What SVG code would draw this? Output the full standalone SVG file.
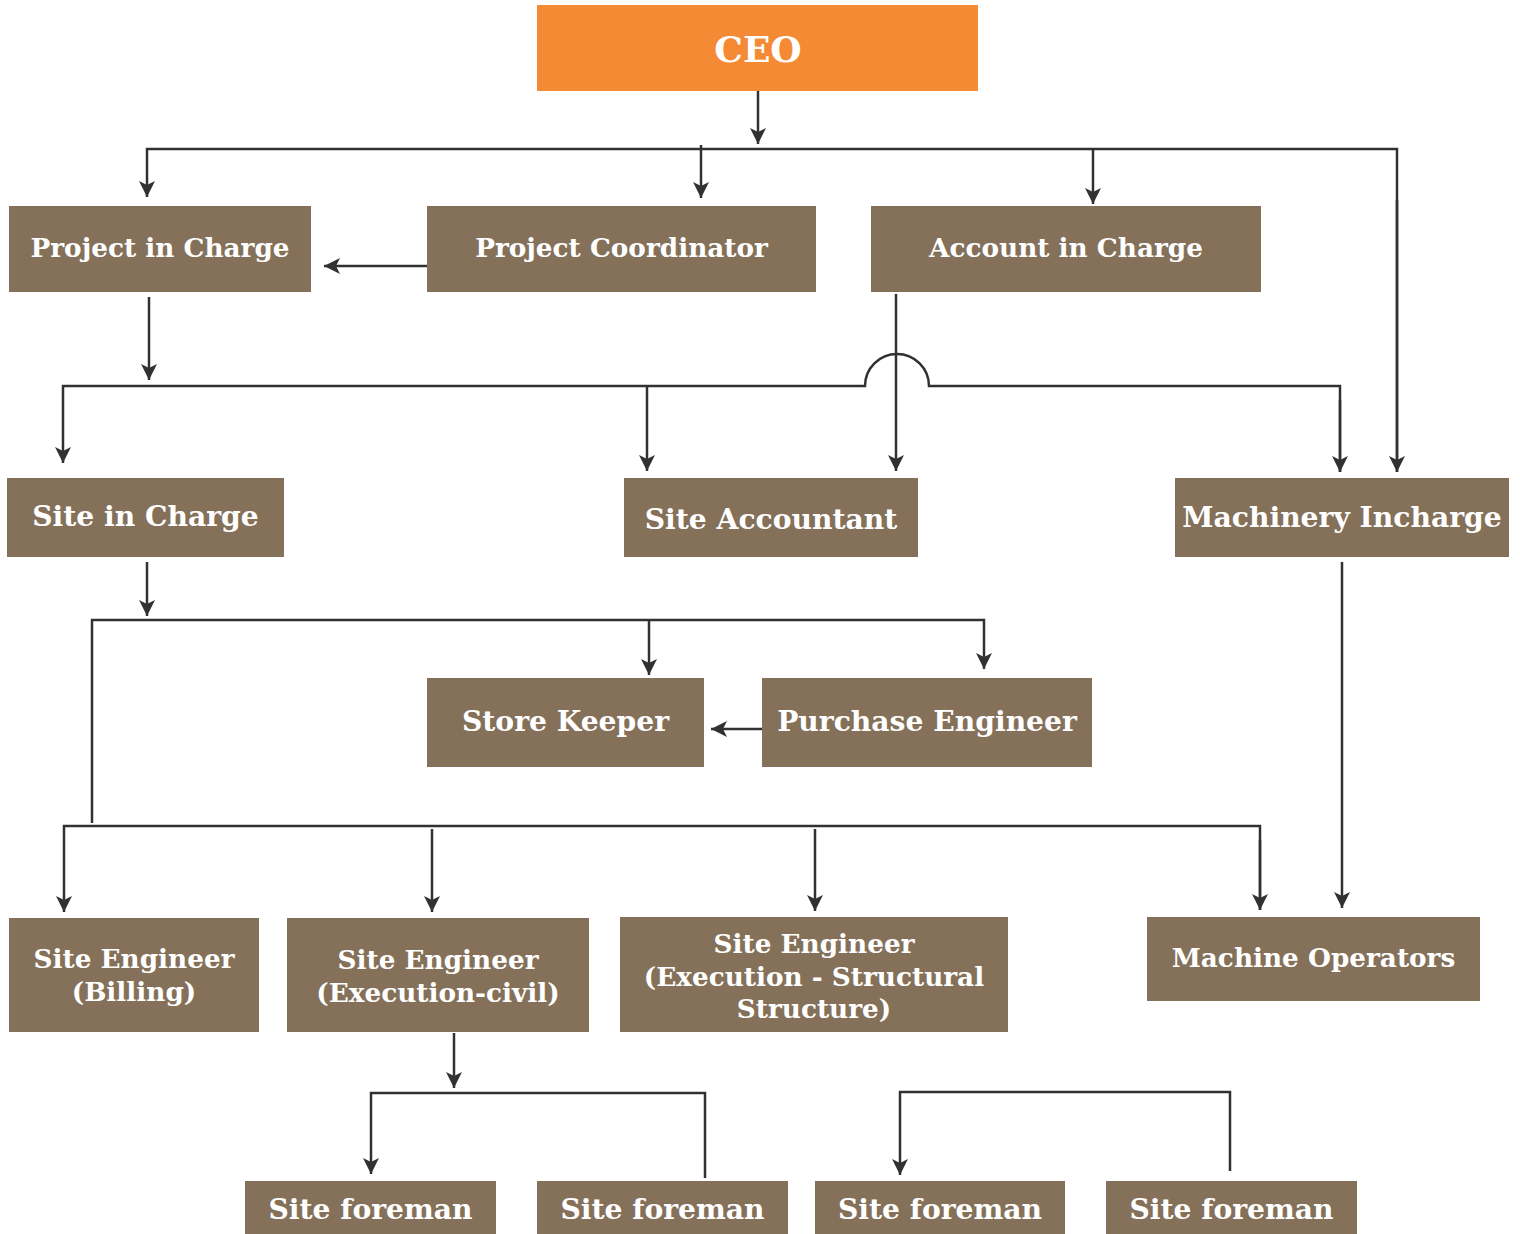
<svg xmlns="http://www.w3.org/2000/svg" width="1520" height="1234" viewBox="0 0 1520 1234">
<style>
.box{fill:#85715A}
.ceo{fill:#F58A35}
.t{font-family:"DejaVu Serif","Liberation Serif",serif;font-weight:bold;fill:#FFFFFF;text-anchor:middle;font-size:26.3px}
.l{font-size:28.2px}
.c{fill:none;stroke:#333033;stroke-width:2.5}
</style>
<defs>
<marker id="ah" markerWidth="18" markerHeight="16" refX="16" refY="8" orient="auto" markerUnits="userSpaceOnUse" viewBox="0 0 18 16">
<path d="M0,0 L16,8 L0,16 L4,8 Z" fill="#333033"/>
</marker>
</defs>
<g id="connectors">
<path class="c" d="M758,91 V144" marker-end="url(#ah)"/>
<path class="c" d="M1397,472 V149 H147 V197" marker-end="url(#ah)"/>
<path class="c" d="M701,145 V198" marker-end="url(#ah)"/>
<path class="c" d="M1093,149 V204" marker-end="url(#ah)"/>
<path class="c" d="M1397,200 V472" marker-end="url(#ah)"/>
<path class="c" d="M427,266 H324" marker-end="url(#ah)"/>
<path class="c" d="M149,297 V380" marker-end="url(#ah)"/>
<path class="c" d="M1340,472 V386 H929 A32,32 0 0 0 865,386 H63 V463" marker-end="url(#ah)"/>
<path class="c" d="M1340,400 V472" marker-end="url(#ah)"/>
<path class="c" d="M647,386 V471" marker-end="url(#ah)"/>
<path class="c" d="M896,294 V471" marker-end="url(#ah)"/>
<path class="c" d="M147,562 V616" marker-end="url(#ah)"/>
<path class="c" d="M92,823 V620 H984 V669" marker-end="url(#ah)"/>
<path class="c" d="M649,620 V675" marker-end="url(#ah)"/>
<path class="c" d="M762,729 H711" marker-end="url(#ah)"/>
<path class="c" d="M1260,910 V826 H64 V912" marker-end="url(#ah)"/>
<path class="c" d="M1260,840 V910" marker-end="url(#ah)"/>
<path class="c" d="M432,829 V912" marker-end="url(#ah)"/>
<path class="c" d="M815,829 V911" marker-end="url(#ah)"/>
<path class="c" d="M1342,562 V908" marker-end="url(#ah)"/>
<path class="c" d="M454,1033 V1088" marker-end="url(#ah)"/>
<path class="c" d="M705,1178 V1093 H371 V1174" marker-end="url(#ah)"/>
<path class="c" d="M1230,1171 V1092 H900 V1175" marker-end="url(#ah)"/>
</g>
<g id="ceo"><rect class="ceo" x="537" y="5" width="441" height="86"/><text class="t" x="758" y="62" style="font-size:36px">CEO</text></g>
<g id="project-in-charge"><rect class="box" x="9" y="206" width="302" height="86"/><text class="t" x="160" y="257">Project in Charge</text></g>
<g id="project-coordinator"><rect class="box" x="427" y="206" width="389" height="86"/><text class="t" x="621.5" y="257">Project Coordinator</text></g>
<g id="account-in-charge"><rect class="box" x="871" y="206" width="390" height="86"/><text class="t" x="1066" y="257">Account in Charge</text></g>
<g id="site-in-charge"><rect class="box" x="7" y="478" width="277" height="79"/><text class="t l" x="145.5" y="526">Site in Charge</text></g>
<g id="site-accountant"><rect class="box" x="624" y="478" width="294" height="79"/><text class="t l" x="771" y="529">Site Accountant</text></g>
<g id="machinery-incharge"><rect class="box" x="1175" y="478" width="334" height="79"/><text class="t l" x="1342" y="527">Machinery Incharge</text></g>
<g id="store-keeper"><rect class="box" x="427" y="678" width="277" height="89"/><text class="t l" x="565.5" y="731">Store Keeper</text></g>
<g id="purchase-engineer"><rect class="box" x="762" y="678" width="330" height="89"/><text class="t l" x="927" y="731">Purchase Engineer</text></g>
<g id="site-engineer-billing"><rect class="box" x="9" y="918" width="250" height="114"/><text class="t" x="134" y="968">Site Engineer</text><text class="t" x="134" y="1001">(Billing)</text></g>
<g id="site-engineer-civil"><rect class="box" x="287" y="918" width="302" height="114"/><text class="t" x="438" y="969">Site Engineer</text><text class="t" x="438" y="1002">(Execution-civil)</text></g>
<g id="site-engineer-structural"><rect class="box" x="620" y="917" width="388" height="115"/><text class="t" x="814" y="953">Site Engineer</text><text class="t" x="814" y="986">(Execution - Structural</text><text class="t" x="814" y="1018">Structure)</text></g>
<g id="machine-operators"><rect class="box" x="1147" y="917" width="333" height="84"/><text class="t" x="1313.5" y="967">Machine Operators</text></g>
<g id="site-foreman-1"><rect class="box" x="245" y="1181" width="251" height="53"/><text class="t l" x="370.5" y="1219">Site foreman</text></g>
<g id="site-foreman-2"><rect class="box" x="537" y="1181" width="251" height="53"/><text class="t l" x="662.5" y="1219">Site foreman</text></g>
<g id="site-foreman-3"><rect class="box" x="815" y="1181" width="250" height="53"/><text class="t l" x="940" y="1219">Site foreman</text></g>
<g id="site-foreman-4"><rect class="box" x="1106" y="1181" width="251" height="53"/><text class="t l" x="1231.5" y="1219">Site foreman</text></g>
</svg>
